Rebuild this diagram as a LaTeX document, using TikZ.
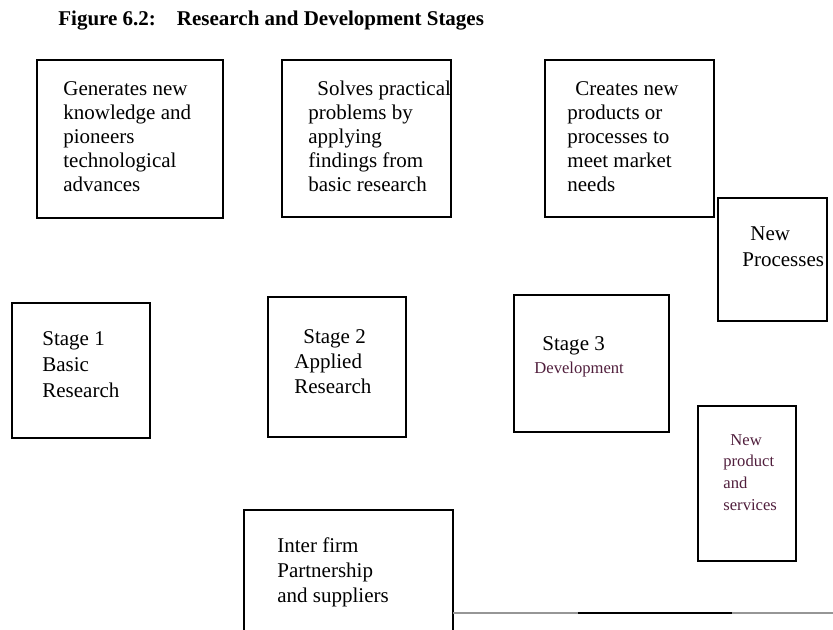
\documentclass[tikz,border=0pt]{standalone}
\usepackage{fontspec}
\setmainfont{Liberation Serif}
\definecolor{devtext}{RGB}{80,30,60}
\definecolor{rulegray}{RGB}{150,150,150}
\tikzset{
    boxline/.style={draw=black, line width=1pt},
    boxtext/.style={anchor=base west, inner sep=0pt, align=left,
        font=\fontsize{10.5}{#1}\selectfont},
    boxtext/.default=12.5,
    smalltext/.style={anchor=base west, inner sep=0pt, align=left,
        text=devtext, font=\fontsize{8.3}{10.8}\selectfont}
}
\begin{document}
\begin{tikzpicture}[x=0.5pt, y=-0.5pt]
    \useasboundingbox (0,0) rectangle (833,630);

    % Title
    \node[anchor=base west, inner sep=0pt, font=\fontsize{10.5}{12.5}\selectfont\bfseries]
        (title) at (58,26) {Figure 6.2:\quad Research and Development Stages};

    % Basic research text (placed by its last line)
    \draw[boxline] (37,60) rectangle (223,218);
    \node[boxtext=12] (generates) at (63,192)
        {Generates new\\knowledge and\\pioneers\\technological\\advances};

    % Applied research text
    \draw[boxline] (282,60) rectangle (451,217);
    \node[boxtext=12] (solves) at (308,192)
        {\hspace*{4.5pt}Solves practical\\problems by\\applying\\findings from\\basic research};

    % Development text
    \draw[boxline] (545,60) rectangle (714,217);
    \node[boxtext=12] (creates) at (567,192)
        {\hspace*{4pt}Creates new\\products or\\processes to\\meet market\\needs};

    % New processes
    \draw[boxline] (718,198) rectangle (827,321);
    \node[boxtext=13] (newproc) at (742,266) {\hspace*{4pt}New\\Processes};

    % Stage 1
    \draw[boxline] (12,303) rectangle (150,438);
    \node[boxtext=13] (stage1) at (42,397) {Stage 1\\Basic\\Research};

    % Stage 2
    \draw[boxline] (268,297) rectangle (406,437);
    \node[boxtext=12.5] (stage2) at (294,393) {\hspace*{4.5pt}Stage 2\\Applied\\Research};

    % Stage 3
    \draw[boxline] (514,295) rectangle (669,432);
    \node[boxtext] (stage3) at (542,350) {Stage 3};
    \node[smalltext] (develop) at (534,373) {Development};

    % New product and services
    \draw[boxline] (698,406) rectangle (796,561);
    \node[smalltext] (newprod) at (723,510) {\hspace*{3.5pt}New\\product\\and\\services};

    % Inter firm partnership
    \draw[boxline] (244,632) -- (244,510) -- (453,510) -- (453,632);
    \node[boxtext] (interfirm) at (277,602) {Inter firm\\Partnership\\and suppliers};

    % Rule at the foot
    \coordinate (r0) at (453,613);
    \coordinate (r1) at (578,613);
    \coordinate (r2) at (732,613);
    \coordinate (r3) at (833,613);
    \draw[rulegray, line width=1pt] (r0) -- (r1);
    \draw[black, line width=1pt] (r1) -- (r2);
    \draw[rulegray, line width=1pt] (r2) -- (r3);
\end{tikzpicture}
\end{document}
